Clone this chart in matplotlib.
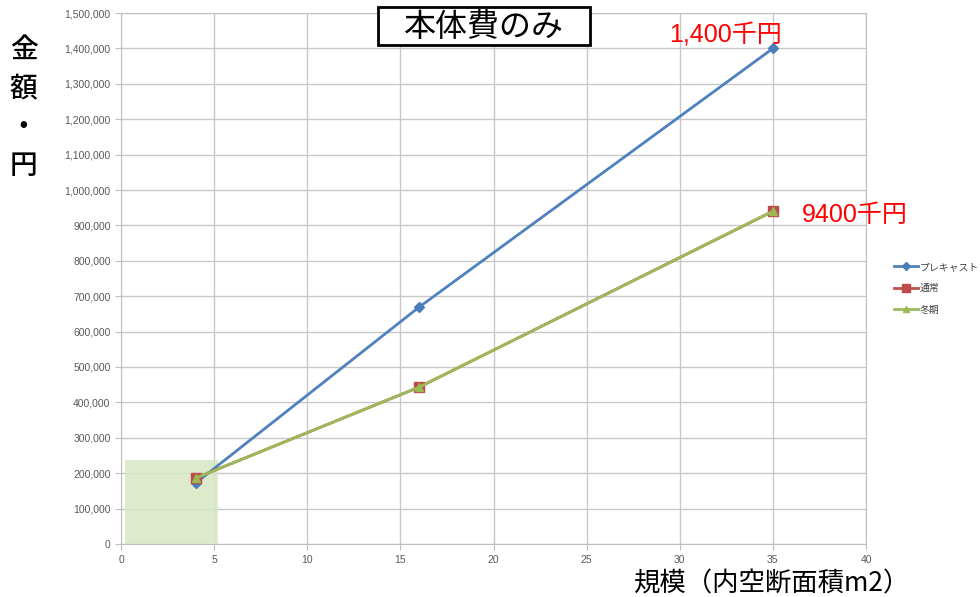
import matplotlib
matplotlib.use("Agg")
import matplotlib.pyplot as plt
from matplotlib.patches import Rectangle
from matplotlib.ticker import FuncFormatter, MultipleLocator

plt.rcParams['font.family'] = ['Noto Sans CJK JP', 'DejaVu Sans']

# data
scale = [4, 16, 35]
precast = [172000, 669000, 1400000]
normal = [186000, 443000, 940000]
winter = [186000, 443000, 940000]
series_names = ['プレキャスト', '通常', '冬期']

fig = plt.figure(figsize=(9.8, 5.97), dpi=100)
ax = fig.add_axes([0.1235, 0.0888, 0.7602, 0.8894])

ax.set_xlim(0, 40)
ax.set_ylim(0, 1500000)
ax.xaxis.set_major_locator(MultipleLocator(5))
ax.yaxis.set_major_locator(MultipleLocator(100000))
ax.yaxis.set_major_formatter(FuncFormatter(lambda v, p: f"{int(v):,}"))
ax.grid(True, color='#c8c8c8', linewidth=1.0)
ax.set_axisbelow(True)
for s in ax.spines.values():
    s.set_color('#bfbfbf')
ax.tick_params(axis='both', labelsize=7.5, colors='#595959', length=4, color='#bfbfbf')
ax.tick_params(axis='x', pad=4)
for lab in ax.get_xticklabels() + ax.get_yticklabels():
    lab.set_family(['Liberation Sans', 'DejaVu Sans'])

# highlighted small-scale zone
ax.add_patch(Rectangle((0.2, 0), 5.0, 237000, facecolor='#d7e8c4', edgecolor='none',
                       alpha=0.85, zorder=1))

ax.plot(scale, precast, color='#4f81bd', linewidth=2, marker='D', markersize=5,
        markerfacecolor='#4a7ebb', markeredgecolor='#4a7ebb', label=series_names[0], zorder=3)
ax.plot(scale, normal, color='#c0504d', linewidth=2, marker='s', markersize=7,
        markerfacecolor='#be4b48', markeredgecolor='#be4b48', label=series_names[1], zorder=3)
ax.plot(scale, winter, color='#9bbb59', linewidth=2, marker='^', markersize=6,
        markerfacecolor='#98b954', markeredgecolor='#98b954', label=series_names[2], zorder=4)

leg = fig.legend(loc='upper left', bbox_to_anchor=(0.908, 0.568), frameon=False,
                 fontsize=7.1, handlelength=2.5, handletextpad=0.15, labelspacing=1.15,
                 borderaxespad=0, markerscale=0.75)
for t in leg.get_texts():
    t.set_color('#404040')

# title box
fig.patches.append(Rectangle((0.3857, 0.9246), 0.2163, 0.0636, transform=fig.transFigure,
                             facecolor='white', edgecolor='black', linewidth=2, zorder=5))
fig.text(0.494, 0.955, '本体費のみ', ha='center', va='center', fontsize=23, zorder=6)

# value callouts
callout_font = ['Liberation Sans', 'Noto Sans CJK JP']
fig.text(0.740, 0.941, '1,400千円', ha='center', va='center', fontsize=18, color='red',
         family=callout_font)
fig.text(0.872, 0.640, '9400千円', ha='center', va='center', fontsize=18, color='red',
         family=callout_font)

# axis titles
fig.text(0.024, 0.82, '金\n額\n・\n円', ha='center', va='center', fontsize=20,
         linespacing=1.42, fontweight='medium')
fig.text(0.788, 0.021, '規模（内空断面積m2）', ha='center', va='center', fontsize=19)

fig.savefig('out.png', dpi=100)
